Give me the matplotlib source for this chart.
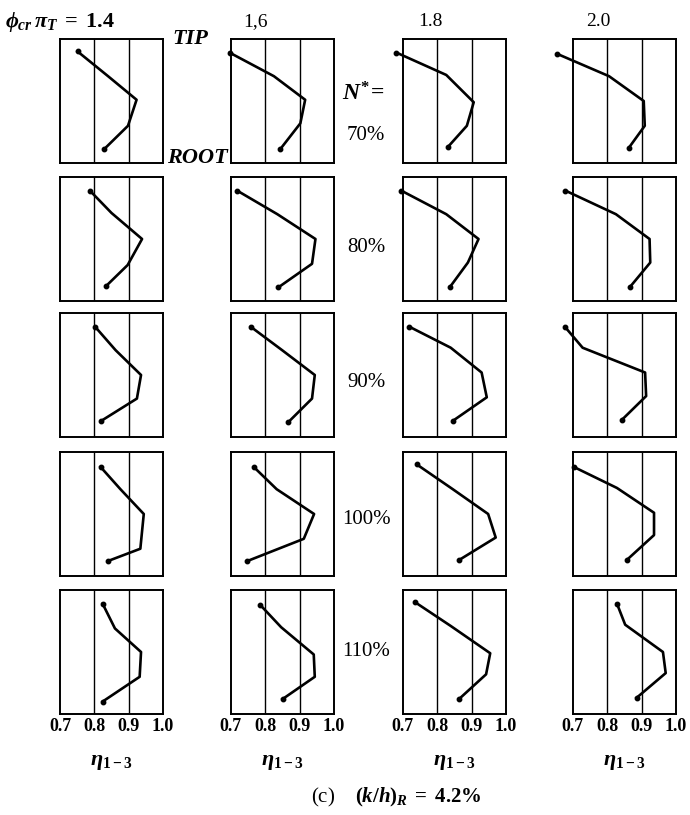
import matplotlib as mpl
mpl.use('Agg')
import matplotlib.pyplot as plt

# efficiency eta_1-3 along the span, tip first, one list per pressure ratio
ratios = ['1.4', '1,6', '1.8', '2.0']
speeds = ['70%', '80%', '90%', '100%', '110%']

eta_70 = [[0.751, 0.840, 0.923, 0.898, 0.828],
          [0.696, 0.825, 0.916, 0.902, 0.843],
          [0.681, 0.826, 0.906, 0.886, 0.831],
          [0.654, 0.805, 0.906, 0.909, 0.862]]
span_70 = [[0.90, 0.70, 0.51, 0.30, 0.11],
           [0.89, 0.70, 0.51, 0.32, 0.11],
           [0.89, 0.71, 0.49, 0.30, 0.13],
           [0.88, 0.70, 0.50, 0.30, 0.12]]

eta_80 = [[0.787, 0.850, 0.939, 0.897, 0.834],
          [0.718, 0.835, 0.946, 0.936, 0.838],
          [0.695, 0.826, 0.920, 0.889, 0.836],
          [0.678, 0.825, 0.923, 0.925, 0.865]]
span_80 = [[0.89, 0.71, 0.50, 0.29, 0.12],
           [0.89, 0.70, 0.50, 0.30, 0.11],
           [0.89, 0.70, 0.50, 0.31, 0.11],
           [0.89, 0.70, 0.50, 0.31, 0.11]]

eta_90 = [[0.802, 0.862, 0.936, 0.924, 0.820],
          [0.757, 0.849, 0.944, 0.936, 0.867],
          [0.718, 0.839, 0.929, 0.944, 0.845],
          [0.676, 0.728, 0.910, 0.913, 0.843]]
span_90 = [[0.89, 0.70, 0.50, 0.31, 0.13],
           [0.89, 0.70, 0.50, 0.31, 0.12],
           [0.89, 0.72, 0.52, 0.32, 0.13],
           [0.89, 0.72, 0.52, 0.33, 0.14]]

eta_100 = [[0.818, 0.876, 0.944, 0.934, 0.839],
           [0.766, 0.833, 0.942, 0.912, 0.747],
           [0.740, 0.845, 0.948, 0.970, 0.864],
           [0.702, 0.828, 0.936, 0.936, 0.857]]
span_100 = [[0.88, 0.70, 0.50, 0.22, 0.12],
            [0.88, 0.70, 0.50, 0.30, 0.12],
            [0.90, 0.70, 0.50, 0.31, 0.13],
            [0.88, 0.71, 0.51, 0.33, 0.13]]

eta_110 = [[0.824, 0.860, 0.936, 0.932, 0.824],
           [0.785, 0.846, 0.941, 0.944, 0.850],
           [0.736, 0.839, 0.954, 0.942, 0.863],
           [0.828, 0.852, 0.962, 0.970, 0.885]]
span_110 = [[0.89, 0.69, 0.50, 0.30, 0.10],
            [0.88, 0.70, 0.48, 0.30, 0.12],
            [0.90, 0.71, 0.49, 0.32, 0.12],
            [0.89, 0.72, 0.50, 0.33, 0.13]]

eta_rows = [eta_70, eta_80, eta_90, eta_100, eta_110]
span_rows = [span_70, span_80, span_90, span_100, span_110]
xticks = [0.7, 0.8, 0.9, 1.0]

plt.rcParams['font.family'] = 'Liberation Serif'
plt.rcParams['mathtext.fontset'] = 'custom'
plt.rcParams['mathtext.rm'] = 'Liberation Serif:bold'
plt.rcParams['mathtext.it'] = 'Liberation Serif:italic:bold'
plt.rcParams['mathtext.bf'] = 'Liberation Serif:bold'

W, H = 690., 815.
fig = plt.figure(figsize=(6.9, 8.15), dpi=100)

col_left = [60, 231, 403, 573]
row_top = [39, 177, 313, 452, 590]
pw, ph = 103, 124

for r in range(5):
    for c in range(4):
        ax = fig.add_axes([col_left[c] / W, 1 - (row_top[r] + ph) / H, pw / W, ph / H])
        ax.set_xlim(0.7, 1.0)
        ax.set_ylim(0, 1)
        for g in (0.8, 0.9):
            ax.axvline(g, color='k', lw=1.0)
        for s in ax.spines.values():
            s.set_linewidth(1.4)
        ax.plot(eta_rows[r][c], span_rows[r][c], '-', color='k', lw=1.9,
                marker='o', markersize=3.2, markevery=[0, 4], clip_on=False)
        ax.set_yticks([])
        ax.tick_params(axis='x', length=0, pad=3)
        if r == 4:
            ax.set_xticks(xticks)
            ax.set_xticklabels(['%.1f' % t for t in xticks],
                               fontsize=13, fontweight='bold')
            fig.text((col_left[c] + pw / 2) / W, 1 - 762 / H, r'$\eta_{\mathrm{1-3}}$',
                     fontsize=16, ha='center', va='center')
        else:
            ax.set_xticks([])

# column headers
fig.text(5 / W, 1 - 22 / H, r'$\phi_{cr}\,\pi_T\;=\;\mathrm{1.4}$', fontsize=16,
         ha='left', va='center')
fig.text(255 / W, 1 - 22 / H, ratios[1], fontsize=14, ha='center', va='center')
fig.text(430 / W, 1 - 22 / H, ratios[2], fontsize=14, ha='center', va='center')
fig.text(598 / W, 1 - 22 / H, ratios[3], fontsize=14, ha='center', va='center')

fig.text(190 / W, 1 - 39 / H, 'TIP', fontsize=16, fontweight='bold', style='italic',
         ha='center', va='center')
fig.text(197 / W, 1 - 158 / H, 'ROOT', fontsize=16, fontweight='bold', style='italic',
         ha='center', va='center')

# speed labels between columns 2 and 3
fig.text(363 / W, 1 - 94 / H, r'$N^{*}\!=$', fontsize=17, ha='center', va='center')
speed_y = [135, 247, 383, 520, 652]
for lab, y in zip(speeds, speed_y):
    fig.text(366 / W, 1 - y / H, lab, fontsize=15, ha='center', va='center')

fig.text(396 / W, 1 - 797 / H, r'(c)    $(k/h)_R\;=\;\mathrm{4.2\%}$', fontsize=15,
         ha='center', va='center')

plt.savefig('out.png', dpi=100)
